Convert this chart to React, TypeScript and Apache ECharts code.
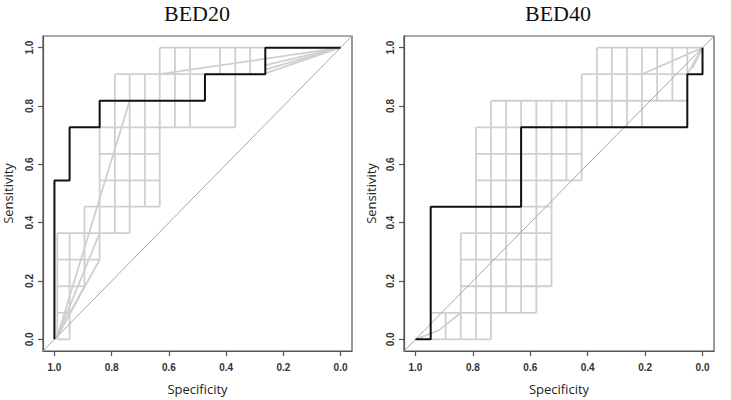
import React, { useEffect, useRef } from "react";
import * as echarts from "echarts";

const TITLES = ["BED20", "BED40"];
const TICKS = [0, 0.2, 0.4, 0.6, 0.8, 1.0];

// Empirical ROC curves: [specificity, sensitivity]
const rocBED20 = [
  [1, 0], [1, 0.545], [0.947, 0.545], [0.947, 0.727], [0.842, 0.727], [0.842, 0.818],
  [0.474, 0.818], [0.474, 0.909], [0.263, 0.909], [0.263, 1], [0, 1],
];
const rocBED40 = [
  [1, 0], [0.947, 0], [0.947, 0.455], [0.632, 0.455], [0.632, 0.727], [0.053, 0.727],
  [0.053, 0.909], [0, 0.909], [0, 1],
];

// Bootstrap (grey) curves, horizontal pieces: [sensitivity, specFrom, specTo]
const greyH20 = [
  [0, 0.99, 0.947], [0.091, 0.99, 0.947], [0.182, 0.99, 0.895], [0.273, 0.99, 0.842],
  [0.364, 0.99, 0.737], [0.455, 0.895, 0.632], [0.545, 0.842, 0.632], [0.636, 0.842, 0.632],
  [0.727, 0.842, 0.368], [0.909, 0.789, 0.263], [1.0, 0.632, 0.263],
];
// vertical pieces: [specificity, sensFrom, sensTo]
const greyV20 = [
  [0.99, 0, 0.364], [0.947, 0, 0.364], [0.895, 0.182, 0.455], [0.842, 0.273, 0.727],
  [0.789, 0.364, 0.909], [0.737, 0.364, 0.909], [0.684, 0.455, 0.909], [0.632, 0.455, 1.0],
  [0.579, 0.727, 1.0], [0.526, 0.727, 1.0], [0.421, 0.909, 1.0], [0.368, 0.727, 1.0],
  [0.316, 0.909, 1.0],
];
const greyD20 = [
  [[0.99, 0.01], [0.737, 0.818]],
  [[0.99, 0.01], [0.842, 0.364]],
  [[0.99, 0.01], [0.842, 0.273]],
  [[0.99, 0.01], [0.895, 0.182]],
  [[0.632, 0.909], [0, 1]],
  [[0.263, 0.912], [0, 1]],
  [[0.263, 0.925], [0, 1]],
  [[0.263, 0.94], [0, 1]],
];

const greyH40 = [
  [0, 0.947, 0.737], [0.091, 0.947, 0.579], [0.182, 0.842, 0.526], [0.273, 0.842, 0.526],
  [0.364, 0.842, 0.526], [0.455, 0.632, 0.526], [0.545, 0.789, 0.421], [0.636, 0.789, 0.421],
  [0.727, 0.789, 0.632], [0.818, 0.737, 0.053], [0.909, 0.421, 0.053], [1.0, 0.368, 0],
];
const greyV40 = [
  [0.895, 0, 0.091], [0.842, 0, 0.364], [0.789, 0, 0.727], [0.737, 0, 0.818],
  [0.684, 0.091, 0.818], [0.632, 0.091, 0.818], [0.579, 0.091, 0.818], [0.526, 0.182, 0.818],
  [0.474, 0.545, 0.818], [0.421, 0.545, 0.909], [0.368, 0.727, 1.0], [0.316, 0.727, 1.0],
  [0.263, 0.727, 1.0], [0.211, 0.727, 1.0], [0.158, 0.818, 1.0], [0.105, 0.818, 1.0],
  [0.053, 0.909, 1.0],
];
const greyD40 = [
  [[1, 0], [0.92, 0.03], [0.842, 0.091]],
  [[0.211, 0.909], [0, 1]],
  [[0.053, 0.909], [0, 1]],
  [[0.035, 0.93], [0, 1]],
];

const CHANCE = [[1.04, -0.04], [-0.04, 1.04]];

function segments(h: number[][], v: number[][], d: number[][][]) {
  const out: any[] = [];
  h.forEach(([s, a, b]) => out.push({ coords: [[a, s], [b, s]] }));
  v.forEach(([p, a, b]) => out.push({ coords: [[p, a], [p, b]] }));
  d.forEach((pts) => out.push({ coords: pts }));
  return out;
}

const tickFont = { fontFamily: "Liberation Sans", fontSize: 10, color: "#333", fontWeight: "bold" as const };
const nameFont = { fontFamily: "Open Sans", fontSize: 13, color: "#222" };

function xAxis(gi: number) {
  return {
    type: "value", gridIndex: gi, min: -0.04, max: 1.04, inverse: true,
    name: "Specificity", nameLocation: "middle", nameGap: 31, nameTextStyle: nameFont,
    axisLine: { show: true, onZero: false, lineStyle: { color: "#555", width: 1.2 } },
    axisTick: { show: true, length: 5, customValues: TICKS, lineStyle: { color: "#555", width: 1.2 } },
    axisLabel: { customValues: TICKS, formatter: (v: number) => v.toFixed(1), margin: 11, ...tickFont },
    splitLine: { show: false },
  };
}
function yAxis(gi: number, gap: number) {
  return {
    type: "value", gridIndex: gi, min: -0.04, max: 1.04,
    name: "Sensitivity", nameLocation: "middle", nameGap: gap, nameRotate: 90, nameTextStyle: nameFont,
    axisLine: { show: true, onZero: false, lineStyle: { color: "#555", width: 1.2 } },
    axisTick: { show: true, length: 5, customValues: TICKS, lineStyle: { color: "#555", width: 1.2 } },
    axisLabel: { customValues: TICKS, formatter: (v: number) => v.toFixed(1), margin: 9, rotate: 90, ...tickFont },
    splitLine: { show: false },
  };
}

function panelSeries(gi: number, roc: number[][], h: number[][], v: number[][], d: number[][][]) {
  return [
    {
      type: "lines", coordinateSystem: "cartesian2d", xAxisIndex: gi, yAxisIndex: gi,
      polyline: true, silent: true, z: 2,
      lineStyle: { color: "#cfcfcf", width: 1.8, opacity: 1 },
      data: segments(h, v, d),
    },
    {
      type: "lines", coordinateSystem: "cartesian2d", xAxisIndex: gi, yAxisIndex: gi,
      polyline: true, silent: true, z: 3,
      lineStyle: { color: "#a8a8a8", width: 1, opacity: 1 },
      data: [{ coords: CHANCE }],
    },
    {
      type: "line", xAxisIndex: gi, yAxisIndex: gi, data: roc, showSymbol: false, symbol: "none",
      z: 4, lineStyle: { color: "#111", width: 2 },
    },
  ];
}

export default function App() {
  const ref = useRef<HTMLDivElement>(null);
  useEffect(() => {
    if (!ref.current) return;
    const chart = echarts.init(ref.current, undefined, { renderer: "svg" });
    chart.setOption({
      animation: false,
      backgroundColor: "#fff",
      grid: [
        { left: 43, top: 36, width: 309, height: 319, show: true, borderColor: "#555", borderWidth: 1.2 },
        { left: 404, top: 36, width: 310, height: 319, show: true, borderColor: "#555", borderWidth: 1.2 },
      ],
      xAxis: [xAxis(0), xAxis(1)],
      yAxis: [yAxis(0, 29), yAxis(1, 27)],
      graphic: [
        { type: "text", x: 197, y: 13, style: { text: TITLES[0], font: '22px "Liberation Serif"', fill: "#111", align: "center", verticalAlign: "middle" } },
        { type: "text", x: 558, y: 13, style: { text: TITLES[1], font: '22px "Liberation Serif"', fill: "#111", align: "center", verticalAlign: "middle" } },
      ],
      series: [
        ...panelSeries(0, rocBED20, greyH20, greyV20, greyD20),
        ...panelSeries(1, rocBED40, greyH40, greyV40, greyD40),
      ],
    });
    return () => chart.dispose();
  }, []);
  return <div ref={ref} style={{ position: "absolute", left: 0, top: 0, width: 731, height: 400 }} />;
}
